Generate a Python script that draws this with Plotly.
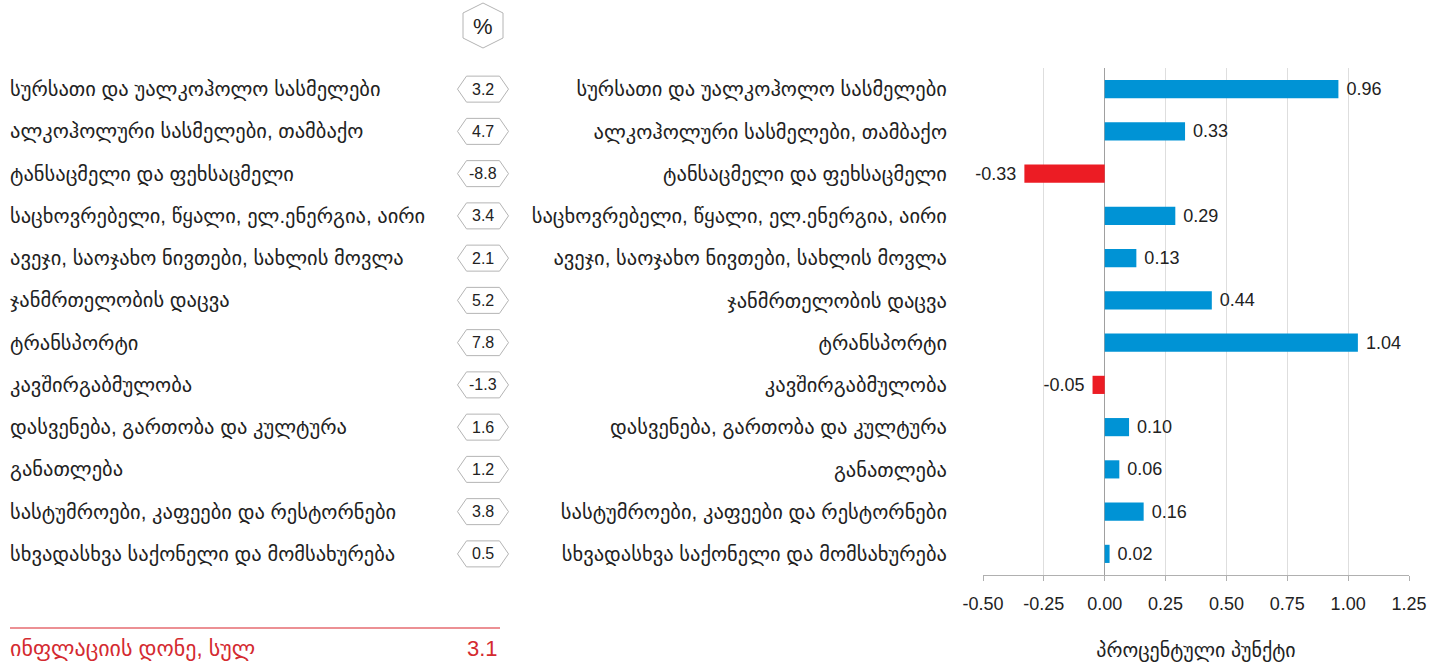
import plotly.graph_objects as go

categories = [
    "სურსათი და უალკოჰოლო სასმელები",
    "ალკოჰოლური სასმელები, თამბაქო",
    "ტანსაცმელი და ფეხსაცმელი",
    "საცხოვრებელი, წყალი, ელ.ენერგია, აირი",
    "ავეჯი, საოჯახო ნივთები, სახლის მოვლა",
    "ჯანმრთელობის დაცვა",
    "ტრანსპორტი",
    "კავშირგაბმულობა",
    "დასვენება, გართობა და კულტურა",
    "განათლება",
    "სასტუმროები, კაფეები და რესტორნები",
    "სხვადასხვა საქონელი და მომსახურება",
]
inflation_pct = [3.2, 4.7, -8.8, 3.4, 2.1, 5.2, 7.8, -1.3, 1.6, 1.2, 3.8, 0.5]
contribution_pp = [0.96, 0.33, -0.33, 0.29, 0.13, 0.44, 1.04, -0.05, 0.10, 0.06, 0.16, 0.02]
x_ticks = [-0.50, -0.25, 0.00, 0.25, 0.50, 0.75, 1.00, 1.25]
total_label = "ინფლაციის დონე, სულ"
total_value = 3.1
x_title = "პროცენტული პუნქტი"

FONT = "Liberation Sans, Arial, DejaVu Sans, sans-serif"
BLUE = "#0093d5"
RED = "#ec1c24"
TXT = "#222222"
GEO_SIZE = 20.5

colors = [BLUE if v >= 0 else RED for v in contribution_pp]
labels = [("\u00a0" + f"{v:.2f}") if v >= 0 else (f"{v:.2f}" + "\u00a0") for v in contribution_pp]

fig = go.Figure(go.Bar(
    x=contribution_pp, y=categories, orientation="h",
    marker=dict(color=colors, line=dict(width=0)),
    text=labels,
    textposition="outside", cliponaxis=False, constraintext="none",
    textfont=dict(size=18, color=TXT, family=FONT),
    hoverinfo="skip",
))

W, H = 1443, 664
fig.update_layout(
    width=W, height=H, margin=dict(l=0, r=0, t=0, b=0, autoexpand=False),
    paper_bgcolor="white", plot_bgcolor="white",
    showlegend=False, bargap=0.57,
    font=dict(family=FONT, size=17, color=TXT),
    xaxis=dict(
        domain=[983 / W, 1409 / W], range=[-0.5, 1.25],
        tickvals=x_ticks, ticktext=[f"{t:.2f}" for t in x_ticks],
        showgrid=True, gridcolor="#dedede", gridwidth=1,
        zeroline=True, zerolinecolor="#a0a0a0", zerolinewidth=1,
        showline=True, linecolor="#b0b0b0", linewidth=1,
        ticks="outside", ticklen=5, tickcolor="#b0b0b0",
        tickfont=dict(size=18, color=TXT), ticklabelstandoff=7,
        title=dict(text=x_title, font=dict(size=20, color=TXT), standoff=30),
        automargin=False, fixedrange=True,
    ),
    yaxis=dict(
        domain=[1 - 575 / H, 1 - 68 / H], range=[11.5, -0.5],
        type="category", showgrid=False, zeroline=False, showline=False,
        ticks="", tickfont=dict(size=GEO_SIZE, color=TXT),
        ticklabelstandoff=35, automargin=False, fixedrange=True,
    ),
)

shapes = []
annotations = []
hexw, hexh, ind = 25.5, 13, 9
badge_path = (f"M {-hexw},0 L {-hexw+ind},{-hexh} L {hexw-ind},{-hexh} "
              f"L {hexw},0 L {hexw-ind},{hexh} L {-hexw+ind},{hexh} Z")
for i, (cat, val) in enumerate(zip(categories, inflation_pct)):
    annotations.append(dict(
        x=8 / W, y=cat, xref="paper", yref="y", xanchor="left", yanchor="middle",
        text=cat, showarrow=False, font=dict(size=GEO_SIZE, color=TXT),
    ))
    shapes.append(dict(
        type="path", xref="paper", yref="y", xsizemode="pixel", ysizemode="pixel",
        xanchor=483 / W, yanchor=i, path=badge_path,
        line=dict(color="#b4b4b4", width=1), fillcolor="white", layer="below",
    ))
    annotations.append(dict(
        x=483 / W, y=cat, xref="paper", yref="y", xanchor="center", yanchor="middle",
        text=f"{val:.1f}", showarrow=False, font=dict(size=16, color=TXT),
    ))

# "%" header hexagon (pointy-top)
pw, ph, pv = 20, 22.5, 12.5
pct_path = (f"M 0,{ph} L {pw},{pv} L {pw},{-pv} L 0,{-ph} L {-pw},{-pv} L {-pw},{pv} Z")
shapes.append(dict(
    type="path", xref="paper", yref="paper", xsizemode="pixel", ysizemode="pixel",
    xanchor=483 / W, yanchor=1 - 25.5 / H, path=pct_path,
    line=dict(color="#b4b4b4", width=1), fillcolor="white",
))
annotations.append(dict(
    x=483 / W, y=1 - 26 / H, xref="paper", yref="paper", xanchor="center", yanchor="middle",
    text="%", showarrow=False, font=dict(size=22, color=TXT),
))

# total line
shapes.append(dict(type="line", xref="paper", yref="paper",
                   x0=10 / W, x1=500 / W, y0=1 - 628 / H, y1=1 - 628 / H,
                   line=dict(color="#d9232b", width=1.2)))
annotations.append(dict(
    x=8 / W, y=1 - 648 / H, xref="paper", yref="paper", xanchor="left", yanchor="middle",
    text=total_label, showarrow=False, font=dict(size=22, color="#d42a30"),
))
annotations.append(dict(
    x=500 / W, y=1 - 648 / H, xref="paper", yref="paper", xanchor="right", yanchor="middle",
    text=f"{total_value:.1f}", showarrow=False, font=dict(size=22, color="#d42a30"),
))

fig.update_layout(shapes=shapes, annotations=annotations)
fig.write_html("out.html", config=dict(displayModeBar=False),
               post_script="document.body.style.margin='0';document.body.style.overflow='hidden';")
